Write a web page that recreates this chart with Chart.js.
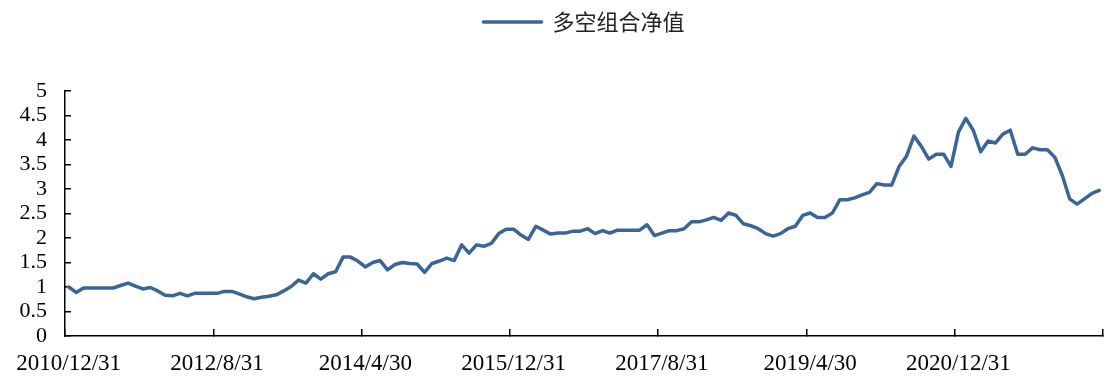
<!DOCTYPE html>
<html lang="zh-CN">
<head>
    <meta charset="UTF-8">
    <title>多空组合净值</title>
    <script src="https://cdn.jsdelivr.net/npm/chart.js"></script>
    <style>
        body {
            margin: 0;
            background-color: #ffffff;
        }

        .wrap {
            width: 1116px;
            height: 387px;
        }
    </style>
</head>
<body>
    <div class="wrap"><canvas id="chart"></canvas></div>

    <script>
        // 月末日期 2010/12 ~ 2022/7，共 140 个
        const startYear = 2010;
        const startMonth = 12;
        const monthCount = 140;

        // x 轴上显示的标签
        const tickLabels = ['2010/12/31', '2012/8/31', '2014/4/30', '2015/12/31', '2017/8/31', '2019/4/30', '2020/12/31'];

        const seriesName = '多空组合净值';
        const netValue = [
            1.00, 0.89, 0.98, 0.98, 0.98, 0.98, 0.98, 1.03, 1.08, 1.02,
            0.96, 0.99, 0.92, 0.83, 0.82, 0.87, 0.82, 0.87, 0.87, 0.87,
            0.87, 0.91, 0.91, 0.86, 0.80, 0.76, 0.79, 0.81, 0.84, 0.92,
            1.01, 1.14, 1.08, 1.27, 1.16, 1.27, 1.31, 1.61, 1.61, 1.53,
            1.41, 1.50, 1.54, 1.35, 1.46, 1.50, 1.48, 1.47, 1.30, 1.48,
            1.53, 1.59, 1.54, 1.86, 1.69, 1.86, 1.83, 1.89, 2.09, 2.18,
            2.18, 2.06, 1.97, 2.24, 2.16, 2.08, 2.10, 2.10, 2.14, 2.14,
            2.19, 2.09, 2.15, 2.10, 2.16, 2.16, 2.16, 2.16, 2.27, 2.05,
            2.10, 2.15, 2.15, 2.19, 2.33, 2.33, 2.37, 2.42, 2.36, 2.51,
            2.46, 2.29, 2.25, 2.19, 2.09, 2.04, 2.09, 2.19, 2.24, 2.46,
            2.51, 2.42, 2.42, 2.51, 2.78, 2.78, 2.82, 2.88, 2.93, 3.11,
            3.08, 3.08, 3.46, 3.67, 4.08, 3.87, 3.61, 3.71, 3.71, 3.46,
            4.16, 4.44, 4.20, 3.76, 3.98, 3.94, 4.12, 4.20, 3.71, 3.71,
            3.84, 3.80, 3.80, 3.65, 3.28, 2.80, 2.69, 2.80, 2.91, 2.97
        ];

        const labels = [];
        for (let i = 0; i < monthCount; i++) {
            const m0 = startMonth - 1 + i;
            const y = startYear + Math.floor(m0 / 12);
            const m = (m0 % 12) + 1;
            const lastDay = new Date(y, m, 0).getDate();
            labels.push(y + '/' + m + '/' + lastDay);
        }

        const lineColor = '#3b6597';

        // 图例和绘图区之间留出空白
        const legendGap = {
            id: 'legendGap',
            beforeInit(chart) {
                const fit = chart.legend.fit;
                chart.legend.fit = function () {
                    fit.call(this);
                    this.height += 48;
                };
            }
        };

        const ctx = document.getElementById('chart').getContext('2d');
        new Chart(ctx, {
            type: 'line',
            data: {
                labels: labels,
                datasets: [{
                    label: seriesName,
                    data: netValue,
                    borderColor: lineColor,
                    backgroundColor: lineColor,
                    borderWidth: 3.5,
                    borderCapStyle: 'round',
                    borderJoinStyle: 'round',
                    pointRadius: 0,
                    tension: 0
                }]
            },
            options: {
                animation: false,
                responsive: true,
                maintainAspectRatio: false,
                layout: {
                    padding: { top: 1, left: 0, right: 13, bottom: 0 }
                },
                plugins: {
                    tooltip: { enabled: false },
                    legend: {
                        position: 'top',
                        fullSize: false,
                        labels: {
                            boxWidth: 58,
                            boxHeight: 0,
                            padding: 10,
                            color: '#222',
                            font: { family: '"Noto Sans CJK SC", sans-serif', size: 22 }
                        }
                    }
                },
                scales: {
                    x: {
                        offset: true,
                        afterFit: s => {
                            s.height = 51;
                            s.paddingLeft = 0;
                            s.paddingRight = 0;
                        },
                        grid: {
                            offset: true,
                            drawOnChartArea: false,
                            tickLength: -7,
                            lineWidth: 1.5,
                            color: c => (c.index === undefined || c.index % 20 === 0) ? '#000' : 'rgba(0,0,0,0)'
                        },
                        border: { color: '#000', width: 1.5 },
                        ticks: {
                            autoSkip: false,
                            maxRotation: 0,
                            minRotation: 0,
                            padding: 21,
                            color: '#000',
                            font: { family: '"Liberation Serif", serif', size: 23 },
                            callback: function (value) {
                                const lab = this.getLabelForValue(value);
                                return tickLabels.includes(lab) ? lab : '';
                            }
                        }
                    },
                    y: {
                        min: 0,
                        max: 5,
                        afterFit: s => { s.width = 65; },
                        grid: {
                            drawOnChartArea: false,
                            tickLength: -6,
                            lineWidth: 1.5,
                            color: '#000'
                        },
                        border: { color: '#000', width: 1.5 },
                        ticks: {
                            autoSkip: false,
                            stepSize: 0.5,
                            padding: 24,
                            color: '#000',
                            font: { family: '"Liberation Serif", serif', size: 22 },
                            callback: v => String(+v.toFixed(1))
                        }
                    }
                }
            },
            plugins: [legendGap]
        });
    </script>
</body>
</html>
